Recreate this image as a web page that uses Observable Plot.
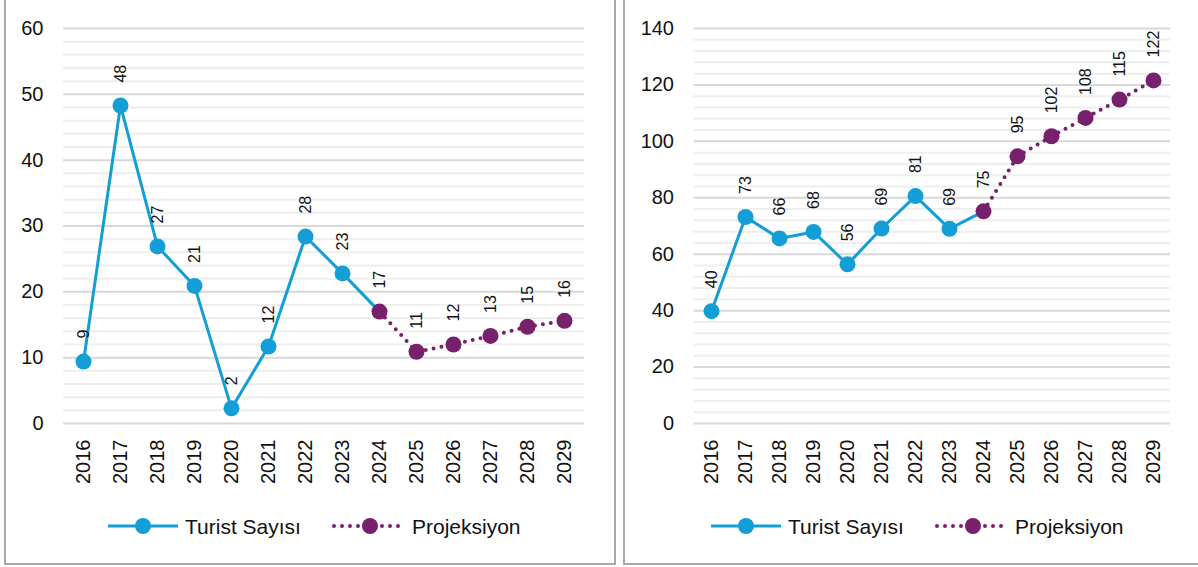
<!DOCTYPE html>
<html><head><meta charset="utf-8">
<script src="https://cdn.jsdelivr.net/npm/d3@7"></script>
<script src="https://cdn.jsdelivr.net/npm/@observablehq/plot@0.6"></script>
<style>
body{margin:0;background:#fff;font-family:"Liberation Sans",Arial,sans-serif;width:1198px;height:567px;overflow:hidden;position:relative;}
.panel{position:absolute;border:2px solid #a9a9a9;box-sizing:border-box;}
#p1{left:4px;top:-6px;width:612px;height:571px;}
#p2{left:623px;top:-6px;width:580px;height:571px;}
.chart{position:absolute;top:0;}
#c1{left:0;}
#c2{left:620px;}
#legend{position:absolute;left:0;top:0;}
</style></head>
<body>
<div class="panel" id="p1"></div>
<div class="panel" id="p2"></div>
<div class="chart" id="c1"></div>
<div class="chart" id="c2"></div>
<svg id="legend" width="1198" height="567"></svg>
<script>
const years = ["2016","2017","2018","2019","2020","2021","2022","2023","2024","2025","2026","2027","2028","2029"];
const leftValues  = [9.4, 48.3, 26.9, 20.9, 2.3, 11.7, 28.4, 22.8, 17.0, 10.9, 12.0, 13.3, 14.7, 15.6];
const rightValues = [39.8, 73.2, 65.6, 67.9, 56.4, 69.1, 80.6, 69.0, 75.2, 94.7, 101.8, 108.3, 114.8, 121.6];
const historyEnd = "2024";   // last observed year (start of projection)
const seriesNames = ["Turist Sayısı", "Projeksiyon"];
const leftTicks = [0,10,20,30,40,50,60];
const rightTicks = [0,20,40,60,80,100,120,140];

const BLUE = "#139fd6", PURPLE = "#77216d";
const FONT = '"Liberation Sans", Arial, sans-serif';

function chart(values, ticks, minorStep, width, ml, mr) {
  const rows = years.map((y, i) => ({year: y, v: values[i], i}));
  const hi = years.indexOf(historyEnd);
  const hist = rows.filter(d => d.i <= hi);
  const proj = rows.filter(d => d.i >= hi);
  const histDots = rows.filter(d => d.i < hi);
  const maxT = ticks[ticks.length - 1];
  const minor = d3.range(0, maxT + 0.001, minorStep).filter(t => !ticks.includes(t));
  return Plot.plot({
    width, height: 505,
    marginLeft: ml, marginRight: mr, marginTop: 28, marginBottom: 82,
    style: {fontFamily: FONT, fontSize: "20px", color: "#111", background: "transparent", overflow: "visible"},
    x: {type: "point", domain: years, padding: 0.5, label: null},
    y: {domain: [0, maxT], label: null},
    marks: [
      Plot.ruleY(minor, {stroke: "#eeeeee", strokeWidth: 2}),
      Plot.ruleY(ticks, {stroke: "#d9d9d9", strokeWidth: 2}),
      Plot.axisY({ticks, tickSize: 0, tickPadding: 20, fontSize: 20, label: null}),
      Plot.axisX({tickRotate: -90, tickSize: 0, tickPadding: 16, fontSize: 20, label: null}),
      Plot.line(hist, {x: "year", y: "v", stroke: BLUE, strokeWidth: 3}),
      Plot.line(proj, {x: "year", y: "v", stroke: PURPLE, strokeWidth: 4, strokeDasharray: "0 8", strokeLinecap: "round"}),
      Plot.dot(histDots, {x: "year", y: "v", r: 8, fill: BLUE}),
      Plot.dot(proj, {x: "year", y: "v", r: 8, fill: PURPLE}),
      Plot.text(rows, {x: "year", y: "v", text: d => String(Math.round(d.v)), rotate: -90, textAnchor: "start", dy: -23, fontSize: 16, fill: "#111"})
    ]
  });
}

document.getElementById("c1").appendChild(chart(leftValues, leftTicks, 2, 615, 63, 31));
document.getElementById("c2").appendChild(chart(rightValues, rightTicks, 4, 578, 73.5, 28));

// legends
const lg = d3.select("#legend");
function legend(x0) {
  const items = [
    {name: seriesNames[0], color: BLUE, dash: null, width: 3, lx: x0, mx: x0 + 35, tx: x0 + 77},
    {name: seriesNames[1], color: PURPLE, dash: "0 8", width: 4, lx: x0 + 226, mx: x0 + 262, tx: x0 + 304}
  ];
  items.forEach(it => {
    lg.append("line").attr("x1", it.lx).attr("x2", it.lx + 70).attr("y1", 526).attr("y2", 526)
      .attr("stroke", it.color).attr("stroke-width", it.width)
      .attr("stroke-dasharray", it.dash).attr("stroke-linecap", it.dash ? "round" : "butt");
    lg.append("circle").attr("cx", it.mx).attr("cy", 526).attr("r", 8).attr("fill", it.color);
    lg.append("text").attr("x", it.tx).attr("y", 533.5).attr("font-family", FONT).attr("font-size", 21)
      .attr("fill", "#111").text(it.name);
  });
}
legend(108);
legend(711);
</script>
</body></html>
